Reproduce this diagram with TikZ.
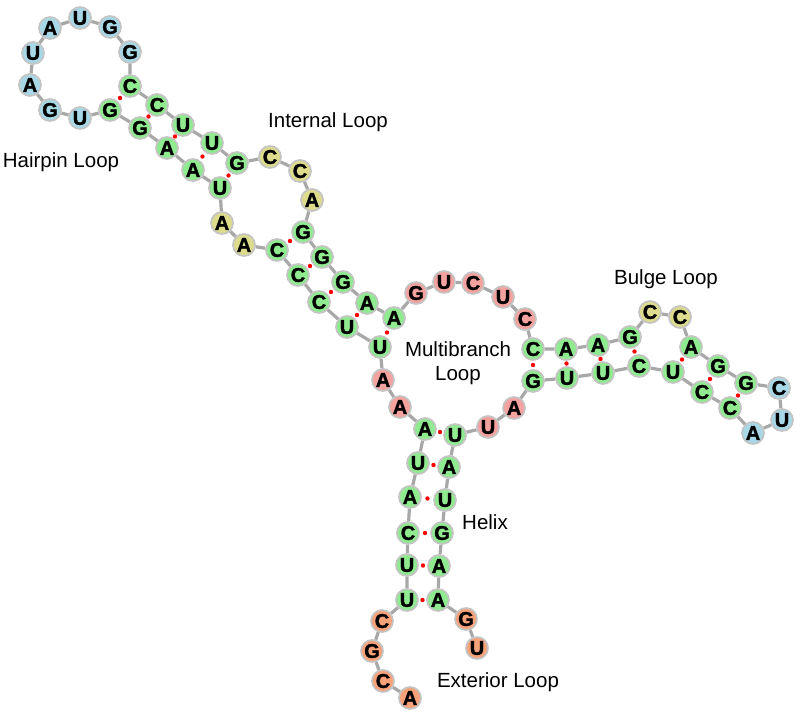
\documentclass[tikz,border=0pt]{standalone}
\usepackage{fontspec}
\setmainfont{Liberation Sans}
\newfontfamily\nucfont[FakeBold=1.5]{Liberation Sans Bold}
\usetikzlibrary{calc}
\definecolor{hpblue}{HTML}{A8D8E6}
\definecolor{stgreen}{HTML}{90EA90}
\definecolor{ilyellow}{HTML}{DCDC8C}
\definecolor{mlred}{HTML}{F4A2A0}
\definecolor{exorange}{HTML}{F8A27A}
\definecolor{rim}{HTML}{C4C4C4}
\definecolor{spine}{HTML}{A8A8A8}
\begin{document}
\begin{tikzpicture}[x=1pt, y=-1pt,
                nuc/.style={circle, draw=rim, line width=1.7pt, minimum size=22pt, inner sep=0pt, node font=\nucfont\fontsize{20}{20}\selectfont},
                hairpin/.style={nuc, fill=hpblue},
                stem/.style={nuc, fill=stgreen},
                interior/.style={nuc, fill=ilyellow},
                multi/.style={nuc, fill=mlred},
                exterior/.style={nuc, fill=exorange},
                spine/.style={draw=spine, line width=3.2pt},
                pairdot/.style={fill=red},
                caption/.style={anchor=base, font=\fontsize{20.5}{24}\selectfont}]
                \useasboundingbox (0,0) rectangle (800,717);

                \node[exterior] (B1) at (410,698) {A};
                \node[exterior] (B2) at (383,681) {C};
                \node[exterior] (B3) at (372,651) {G};
                \node[exterior] (B4) at (382,621) {C};
                \node[stem] (B5) at (407,600) {U};
                \node[stem] (B6) at (407,565) {U};
                \node[stem] (B7) at (408,533) {C};
                \node[stem] (B8) at (410,497) {A};
                \node[stem] (B9) at (418,463) {U};
                \node[stem] (B10) at (425,429) {A};
                \node[multi] (B11) at (400,407) {A};
                \node[multi] (B12) at (383,380) {A};
                \node[stem] (B13) at (380,347) {U};
                \node[stem] (B14) at (347,327) {U};
                \node[stem] (B15) at (319,302) {C};
                \node[stem] (B16) at (298,275) {C};
                \node[stem] (B17) at (277,250) {C};
                \node[interior] (B18) at (244,245) {A};
                \node[interior] (B19) at (222,223) {A};
                \node[stem] (B20) at (220,188) {U};
                \node[stem] (B21) at (193,170) {A};
                \node[stem] (B22) at (167,148) {A};
                \node[stem] (B23) at (140,128) {G};
                \node[stem] (B24) at (110,110) {G};
                \node[hairpin] (B25) at (80,118) {U};
                \node[hairpin] (B26) at (50,110) {G};
                \node[hairpin] (B27) at (30,85) {A};
                \node[hairpin] (B28) at (33,53) {U};
                \node[hairpin] (B29) at (50,28) {A};
                \node[hairpin] (B30) at (80,18) {U};
                \node[hairpin] (B31) at (110,27) {G};
                \node[hairpin] (B32) at (130,52) {G};
                \node[stem] (B33) at (130,86) {C};
                \node[stem] (B34) at (157,105) {C};
                \node[stem] (B35) at (183,125) {U};
                \node[stem] (B36) at (212,143) {U};
                \node[stem] (B37) at (237,163) {G};
                \node[interior] (B38) at (270,157) {C};
                \node[interior] (B39) at (300,171) {C};
                \node[interior] (B40) at (312,200) {A};
                \node[stem] (B41) at (303,232) {G};
                \node[stem] (B42) at (322,257) {G};
                \node[stem] (B43) at (343,282) {G};
                \node[stem] (B44) at (367,303) {A};
                \node[stem] (B45) at (394,318) {A};
                \node[multi] (B46) at (416,293) {G};
                \node[multi] (B47) at (444,282) {U};
                \node[multi] (B48) at (473,283) {C};
                \node[multi] (B49) at (503,297) {U};
                \node[multi] (B50) at (525,319) {C};
                \node[stem] (B51) at (533,349) {C};
                \node[stem] (B52) at (566,349) {A};
                \node[stem] (B53) at (598,345) {A};
                \node[stem] (B54) at (630,337) {G};
                \node[interior] (B55) at (650,312) {C};
                \node[interior] (B56) at (680,317) {C};
                \node[stem] (B57) at (691,347) {A};
                \node[stem] (B58) at (718,366) {G};
                \node[stem] (B59) at (746,383) {G};
                \node[hairpin] (B60) at (779,388) {C};
                \node[hairpin] (B61) at (782,420) {U};
                \node[hairpin] (B62) at (753,433) {A};
                \node[stem] (B63) at (730,408) {C};
                \node[stem] (B64) at (702,392) {C};
                \node[stem] (B65) at (673,372) {U};
                \node[stem] (B66) at (639,366) {C};
                \node[stem] (B67) at (603,373) {U};
                \node[stem] (B68) at (567,378) {U};
                \node[stem] (B69) at (533,381) {G};
                \node[multi] (B70) at (514,408) {A};
                \node[multi] (B71) at (488,427) {U};
                \node[stem] (B72) at (455,435) {U};
                \node[stem] (B73) at (449,467) {A};
                \node[stem] (B74) at (445,500) {U};
                \node[stem] (B75) at (442,533) {G};
                \node[stem] (B76) at (439,566) {A};
                \node[stem] (B77) at (438,600) {A};
                \node[exterior] (B78) at (466,619) {G};
                \node[exterior] (B79) at (477,648) {U};

                \draw[spine] (B1) -- (B2) -- (B3) -- (B4) -- (B5) -- (B6) -- (B7) -- (B8) -- (B9) -- (B10);
                \draw[spine] (B10) -- (B11) -- (B12) -- (B13) -- (B14) -- (B15) -- (B16) -- (B17) -- (B18) -- (B19) -- (B20);
                \draw[spine] (B20) -- (B21) -- (B22) -- (B23) -- (B24) -- (B25) -- (B26) -- (B27) -- (B28) -- (B29) -- (B30);
                \draw[spine] (B30) -- (B31) -- (B32) -- (B33) -- (B34) -- (B35) -- (B36) -- (B37) -- (B38) -- (B39) -- (B40);
                \draw[spine] (B40) -- (B41) -- (B42) -- (B43) -- (B44) -- (B45) -- (B46) -- (B47) -- (B48) -- (B49) -- (B50);
                \draw[spine] (B50) -- (B51) -- (B52) -- (B53) -- (B54) -- (B55) -- (B56) -- (B57) -- (B58) -- (B59) -- (B60);
                \draw[spine] (B60) -- (B61) -- (B62) -- (B63) -- (B64) -- (B65) -- (B66) -- (B67) -- (B68) -- (B69) -- (B70);
                \draw[spine] (B70) -- (B71) -- (B72) -- (B73) -- (B74) -- (B75) -- (B76) -- (B77) -- (B78) -- (B79);

                \foreach \p/\q in {5/77, 6/76, 7/75, 8/74, 9/73, 10/72, 13/45, 14/44, 15/43, 16/42, 17/41,
                                   20/37, 21/36, 22/35, 23/34, 24/33, 51/69, 52/68, 53/67, 54/66, 57/65, 58/64, 59/63}
                    \fill[pairdot] ($(B\p)!0.5!(B\q)$) circle (2.2pt);

                \node[caption] (hairpinlbl) at (61,167) {Hairpin Loop};
                \node[caption] (internallbl) at (328,127) {Internal Loop};
                \node[caption] (multilbl) at (458,356) {Multibranch};
                \node[caption] (multilbl2) at (458,380) {Loop};
                \node[caption] (bulgelbl) at (666,284) {Bulge Loop};
                \node[caption] (helixlbl) at (485,529) {Helix};
                \node[caption] (exteriorlbl) at (498,687) {Exterior Loop};
            \end{tikzpicture}
\end{document}
